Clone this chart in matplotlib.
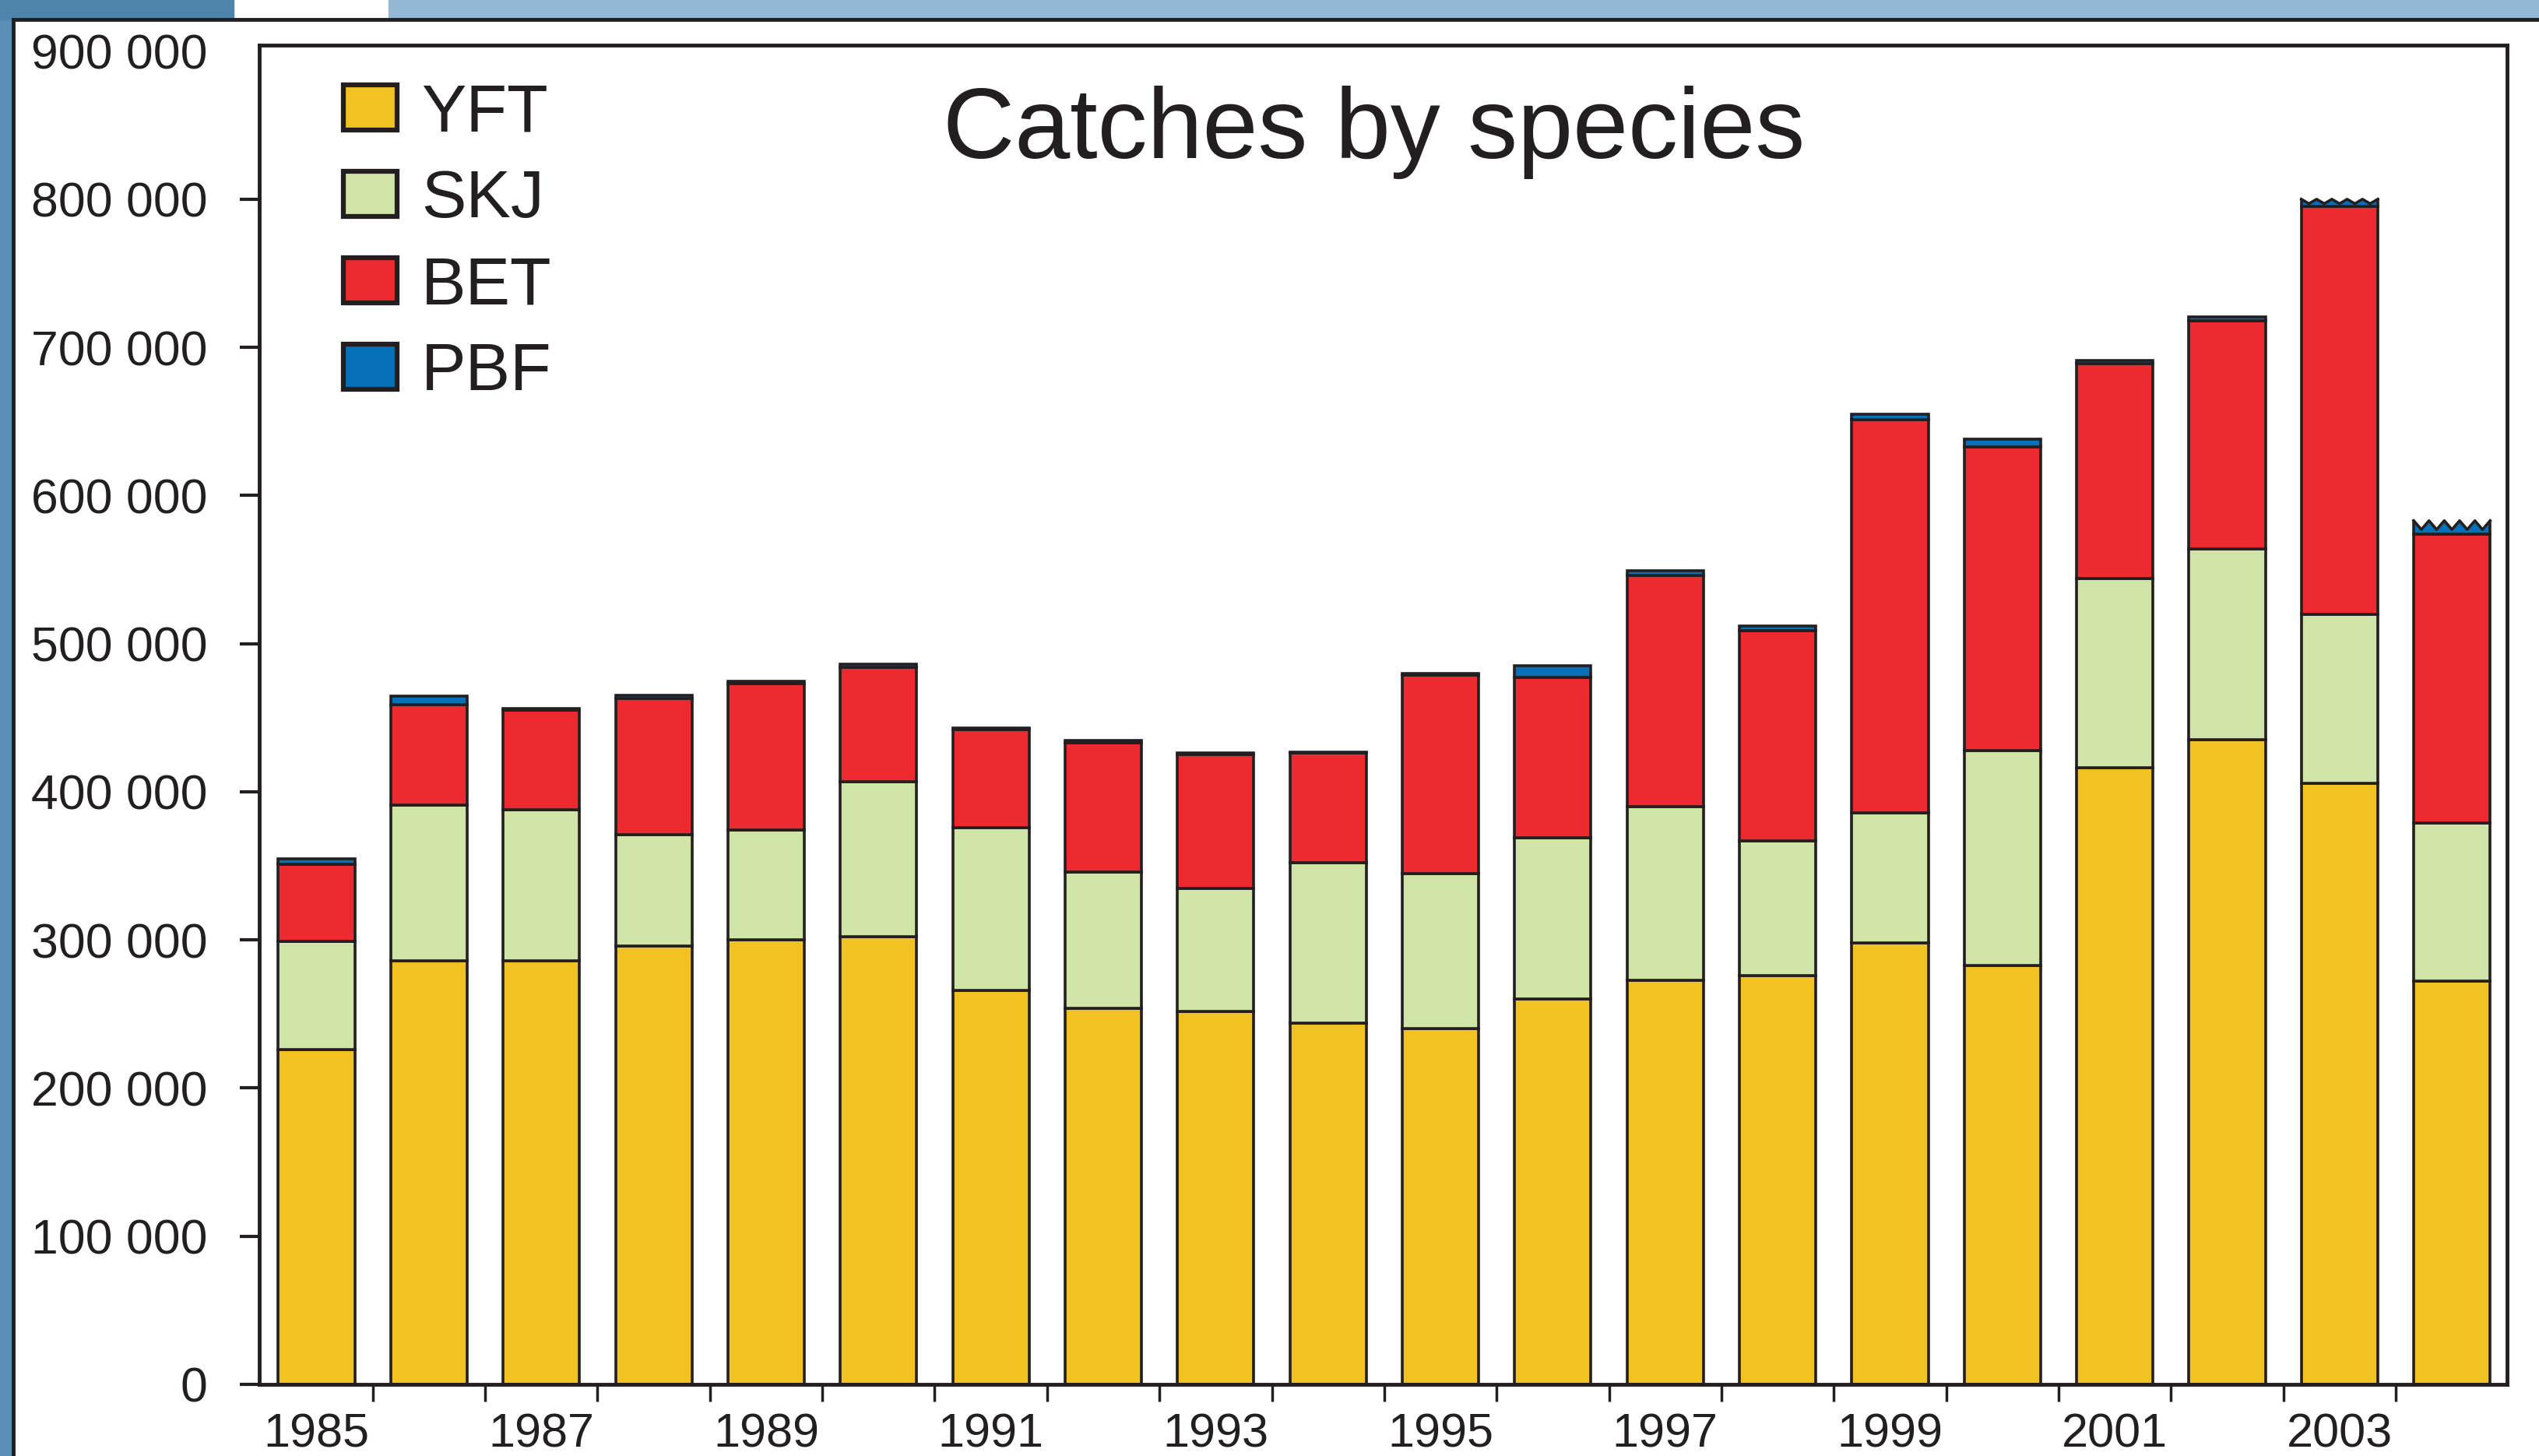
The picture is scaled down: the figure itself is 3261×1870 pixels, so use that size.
import numpy as np
import matplotlib.pyplot as plt
from matplotlib.patches import Rectangle
from matplotlib.ticker import FuncFormatter

plt.rcParams['font.family'] = ['Liberation Sans', 'DejaVu Sans']

# Catches (tonnes) by species, stacked
years = list(range(1985, 2005))
yft = [226000, 286000, 286000, 296000, 300000, 302000, 266000, 254000, 252000, 244000,
       240000, 260000, 273000, 276000, 298000, 283000, 416000, 435000, 406000, 272000]
skj = [73000, 105000, 102000, 75000, 74000, 105000, 110000, 92000, 83000, 108000,
       105000, 109000, 117000, 91000, 88000, 145000, 128000, 129000, 114000, 107000]
bet = [52000, 68000, 67000, 92000, 99000, 77000, 66000, 87000, 90000, 74000,
       134000, 108000, 156000, 142000, 265000, 205000, 145000, 154000, 275000, 195000]
pbf = [3500, 5500, 1000, 2000, 1500, 2000, 1000, 1500, 1000, 1000,
       1000, 8000, 3000, 3000, 4000, 5000, 2000, 2500, 5000, 9000]
species = ["YFT", "SKJ", "BET", "PBF"]
colors = ["#f2c223", "#d1e4a8", "#ec2a2f", "#0670b9"]
provisional = [2003, 2004]   # bars drawn with a jagged top

edge = "#231f20"
bar_w = 0.68

fig = plt.figure(figsize=(32.61, 18.70), dpi=100)

# frame decoration of the original slide
fig.add_artist(Rectangle((0, 0), 17 / 3261, 1, transform=fig.transFigure, color="#5b8fb8", zorder=0))
fig.add_artist(Rectangle((0, 1 - 25 / 1870), 300 / 3261, 25 / 1870, transform=fig.transFigure,
                         color="#4f84ab", zorder=0))
fig.add_artist(Rectangle((499 / 3261, 1 - 25 / 1870), 1, 25 / 1870, transform=fig.transFigure,
                         color="#94b8d4", zorder=0))
fig.add_artist(plt.Line2D([17 / 3261, 1], [1 - 25 / 1870] * 2, transform=fig.transFigure,
                          color=edge, lw=3.5))
fig.add_artist(plt.Line2D([17 / 3261] * 2, [0, 1 - 25 / 1870], transform=fig.transFigure,
                          color=edge, lw=3.5))

ax = fig.add_axes([0.1021, 0.0492, 0.8853, 0.9198])

x = np.arange(len(years))
bottom = np.zeros(len(years))
for name, vals, c in zip(species, [yft, skj, bet, pbf], colors):
    ax.bar(x, vals, bar_w, bottom=bottom, color=c, edgecolor=edge, linewidth=2.6,
           label=name, zorder=2)
    bottom += np.array(vals)

# jagged tops for provisional years
for yr, amp, n in zip(provisional, [3000, 6000], [5, 5]):
    i = years.index(yr)
    top = bottom[i]
    xs = np.linspace(x[i] - bar_w / 2, x[i] + bar_w / 2, 2 * n + 1)
    ys = np.where(np.arange(2 * n + 1) % 2 == 0, top, top - amp)
    ax.fill_between(xs, ys, top + 2 * amp, color="white", zorder=3)
    ax.plot(xs, ys, color=edge, lw=2.6, zorder=4)

ax.set_xlim(-0.51, 19.49)
ax.set_ylim(0, 904000)

ax.set_yticks(np.arange(0, 900001, 100000))
ax.yaxis.set_major_formatter(FuncFormatter(lambda v, p: f"{int(v):,}".replace(",", " ")))
ax.tick_params(axis="y", length=18, width=3, pad=30, labelsize=45, colors=edge)
ax.yaxis.get_major_ticks()[-1].tick1line.set_visible(False)

ax.set_xticks(x[::2])
ax.set_xticklabels([str(y) for y in years[::2]])
ax.set_xticks(x[:-1] + 0.5, minor=True)
ax.tick_params(axis="x", which="major", length=0, pad=26, labelsize=44, colors=edge)
ax.tick_params(axis="x", which="minor", length=16, width=2.5, color=edge)

for s in ax.spines.values():
    s.set_linewidth(3.5)
    s.set_color(edge)
    s.set_zorder(5)

ax.text(0.496, 0.935, "Catches by species", transform=ax.transAxes, ha="center", va="center",
        fontsize=92, color=edge)

leg = ax.legend(loc="upper left", bbox_to_anchor=(0.0374, 0.972), frameon=False, fontsize=62,
                handlelength=0.8, handleheight=0.65, handletextpad=0.36, labelspacing=0.36,
                borderpad=0, borderaxespad=0)
for h in leg.legend_handles:
    h.set_linewidth(4.5)
for t in leg.get_texts():
    t.set_color(edge)

fig.savefig("out.png", dpi=100, facecolor="white")
